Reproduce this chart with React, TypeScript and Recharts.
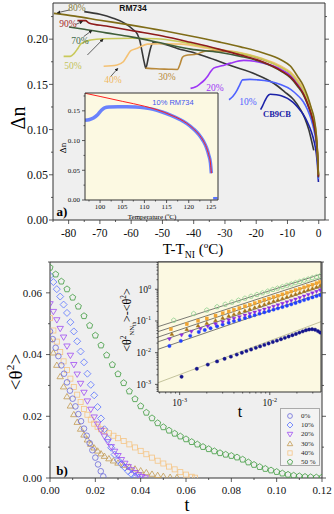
import React from "react";
import { ComposedChart, Line, Scatter, XAxis, YAxis, CartesianGrid, ReferenceLine } from "recharts";

// ---- panel a: birefringence vs T - T_NI, rows are [T - T_NI, Δn]
const rm734 = [[-75, 0.2305], [-70, 0.2275], [-66, 0.2235], [-62, 0.2175], [-59.5, 0.211], [-58, 0.2055], [-57.2, 0.198], [-56.5, 0.186], [-55.8, 0.174], [-55.3, 0.168], [-54.6, 0.178], [-53.8, 0.19], [-53, 0.196], [-50, 0.195], [-45, 0.1895], [-41, 0.186], [-36, 0.1805], [-28, 0.1705], [-20, 0.161], [-14.3, 0.151], [-11, 0.142], [-8, 0.133], [-6, 0.123], [-4.5, 0.113], [-3.2, 0.1], [-2.4, 0.089], [-1.6, 0.077]];
const mix90 = [[-77.2, 0.2205], [-74.6, 0.2205], [-73.5, 0.218], [-68, 0.2145], [-60, 0.2095], [-50, 0.2035], [-41, 0.1965], [-32, 0.189], [-25, 0.1825], [-18, 0.175], [-12, 0.165], [-9, 0.158], [-6.8, 0.149], [-5, 0.14], [-3.6, 0.129], [-2.4, 0.117], [-1.5, 0.105], [-0.8, 0.09], [-0.4, 0.072], [-0.1, 0.048]];
const mix80 = [[-84.7, 0.2285], [-78, 0.2255], [-70, 0.221], [-60, 0.2155], [-50, 0.2095], [-41, 0.2035], [-32, 0.197], [-25, 0.1915], [-18, 0.185], [-12, 0.177], [-9, 0.17], [-6.8, 0.159], [-5, 0.149], [-3.6, 0.137], [-2.4, 0.124], [-1.5, 0.113], [-0.8, 0.095], [-0.4, 0.075], [-0.1, 0.05]];
const mix70 = [[-79.9, 0.2135], [-75, 0.211], [-68, 0.207], [-60, 0.2025], [-50, 0.1955], [-41, 0.189], [-32, 0.1855], [-25, 0.181], [-18, 0.1745], [-12, 0.1645], [-9, 0.157], [-6.8, 0.148], [-5, 0.139], [-3.6, 0.128], [-2.4, 0.116], [-1.5, 0.104], [-0.8, 0.089], [-0.4, 0.071], [-0.1, 0.047]];
const mix50 = [[-81.6, 0.181], [-79.5, 0.181], [-78.3, 0.184], [-77, 0.19], [-76, 0.195], [-73, 0.199], [-68.8, 0.2005], [-60, 0.201], [-52, 0.2005], [-44, 0.197], [-35, 0.1905], [-25, 0.1845], [-18, 0.178], [-12, 0.1685], [-9, 0.162], [-6.8, 0.153], [-5, 0.144], [-3.6, 0.133], [-2.4, 0.121], [-1.5, 0.108], [-0.8, 0.093], [-0.4, 0.074], [-0.1, 0.049]];
const mix40 = [[-68.8, 0.17], [-64.5, 0.1715], [-62.5, 0.175], [-61.2, 0.182], [-60.2, 0.187], [-58, 0.19], [-54.8, 0.1945], [-50, 0.195], [-44, 0.1945], [-35, 0.1895], [-25, 0.185], [-18, 0.1785], [-12, 0.17], [-9, 0.1635], [-6.8, 0.155], [-5, 0.146], [-3.6, 0.135], [-2.4, 0.123], [-1.5, 0.11], [-0.8, 0.095], [-0.4, 0.076], [-0.1, 0.05]];
const mix30 = [[-55.4, 0.168], [-52, 0.1672], [-48, 0.1668], [-45.2, 0.1665], [-44.4, 0.172], [-43.6, 0.18], [-42.6, 0.182], [-39, 0.1835], [-36, 0.187], [-32, 0.187], [-25, 0.184], [-18, 0.1775], [-12, 0.169], [-9, 0.1625], [-6.8, 0.154], [-5, 0.145], [-3.6, 0.134], [-2.4, 0.122], [-1.5, 0.109], [-0.8, 0.094], [-0.4, 0.075], [-0.1, 0.049]];
const mix20 = [[-41, 0.1456], [-39.5, 0.147], [-38, 0.1505], [-36.5, 0.155], [-35.6, 0.1586], [-34.5, 0.1645], [-33.6, 0.168], [-31, 0.1705], [-28.2, 0.1735], [-24, 0.1765], [-18, 0.1738], [-12, 0.1665], [-9, 0.16], [-6.8, 0.151], [-5, 0.142], [-3.6, 0.131], [-2.4, 0.119], [-1.5, 0.106], [-0.8, 0.091], [-0.4, 0.073], [-0.1, 0.048]];
const mix10 = [[-28.7, 0.133], [-27.5, 0.1365], [-26.2, 0.143], [-25.2, 0.15], [-24.4, 0.155], [-22, 0.1555], [-19.6, 0.155], [-16, 0.1535], [-12, 0.1495], [-9, 0.1445], [-6.8, 0.138], [-5, 0.131], [-3.6, 0.122], [-2.4, 0.111], [-1.5, 0.099], [-0.8, 0.085], [-0.4, 0.068], [-0.1, 0.045]];
const cb9cb = [[-18.6, 0.122], [-18, 0.126], [-17.2, 0.132], [-16.4, 0.137], [-15.5, 0.139], [-13.5, 0.1385], [-12, 0.1375], [-10, 0.1345], [-8.2, 0.13], [-6.8, 0.125], [-5, 0.117], [-3.6, 0.108], [-2.4, 0.098], [-1.5, 0.087], [-0.8, 0.074], [-0.4, 0.06], [-0.1, 0.042]];

// inset a: 10% RM734, Δn vs temperature
const ins10 = [[96.6, 0.134], [97.5, 0.135], [98.5, 0.138], [99.5, 0.144], [100.3, 0.151], [101, 0.155], [102, 0.1565], [104, 0.157], [106, 0.157], [108, 0.1565], [110, 0.155], [112, 0.1525], [114, 0.148], [116, 0.1425], [118, 0.1355], [119.5, 0.129], [121, 0.12], [122.3, 0.11], [123.3, 0.099], [124, 0.088], [124.5, 0.076], [124.9, 0.062], [125.1, 0.045]];
const ins10Tail = [[125.5, 0.003], [126.5, 0.003]];
const ins10Fit = [[96.6, 0.1796], [100, 0.1742], [105, 0.166], [110, 0.1578], [113, 0.1515], [114.5, 0.1475], [116, 0.1428], [118, 0.136], [119.5, 0.1293], [121, 0.1203], [122.3, 0.1103], [123.3, 0.0993], [124, 0.0883], [124.5, 0.0763], [124.9, 0.0623], [125.1, 0.045]];

// ---- panel b: <θ²> vs t
const th0 = [[0, 0.0475], [0.0012, 0.045], [0.0025, 0.0422], [0.0037, 0.0395], [0.005, 0.0365], [0.0062, 0.0338], [0.0075, 0.031], [0.0088, 0.0283], [0.01, 0.0257], [0.0112, 0.0232], [0.0125, 0.0207], [0.0137, 0.0184], [0.015, 0.016], [0.0162, 0.0137], [0.0175, 0.0113], [0.0187, 0.009], [0.02, 0.0066], [0.0212, 0.0044], [0.0224, 0.0022], [0.0235, 0.0005]];
const th10 = [[0, 0.0655], [0.0015, 0.0635], [0.003, 0.0612], [0.0045, 0.0588], [0.006, 0.0562], [0.0075, 0.0535], [0.009, 0.0505], [0.0105, 0.0475], [0.012, 0.0443], [0.0135, 0.041], [0.015, 0.0375], [0.0165, 0.0338], [0.018, 0.0302], [0.0195, 0.0268], [0.021, 0.023], [0.0225, 0.0193], [0.024, 0.0158], [0.0255, 0.0126], [0.027, 0.0098], [0.0285, 0.0076], [0.03, 0.0058], [0.0315, 0.0045], [0.033, 0.0034], [0.0345, 0.0022], [0.036, 0.0012], [0.0375, 0.0005], [0.039, 0.0001]];
const th20 = [[0, 0.0565], [0.0015, 0.054], [0.003, 0.0513], [0.0045, 0.0485], [0.006, 0.0457], [0.0075, 0.0428], [0.009, 0.0398], [0.0105, 0.0368], [0.012, 0.0337], [0.0135, 0.0307], [0.015, 0.0278], [0.0165, 0.025], [0.018, 0.0223], [0.0195, 0.0198], [0.021, 0.0175], [0.0225, 0.0155], [0.024, 0.0136], [0.0255, 0.0118], [0.027, 0.0102], [0.0285, 0.0087], [0.03, 0.0073], [0.0315, 0.006], [0.033, 0.0048], [0.0345, 0.0037], [0.036, 0.0027], [0.0375, 0.0018], [0.039, 0.0011], [0.0405, 0.0005], [0.042, 0.0001]];
const th30 = [[0, 0.0448], [0.0015, 0.0405], [0.003, 0.0365], [0.0045, 0.0328], [0.006, 0.0295], [0.0075, 0.0263], [0.009, 0.0233], [0.0105, 0.0205], [0.012, 0.018], [0.0135, 0.0158], [0.015, 0.0139], [0.0165, 0.0123], [0.018, 0.0109], [0.0195, 0.0097], [0.021, 0.0087], [0.0225, 0.0078], [0.024, 0.007], [0.026, 0.0062], [0.028, 0.0055], [0.03, 0.0048], [0.0325, 0.0041], [0.035, 0.0035], [0.0375, 0.0029], [0.04, 0.0023], [0.0425, 0.0017], [0.045, 0.0012], [0.0475, 0.0008], [0.05, 0.0005], [0.053, 0.0002], [0.056, 0.0001]];
const th40 = [[0, 0.0518], [0.0015, 0.0478], [0.003, 0.0442], [0.0045, 0.0408], [0.006, 0.0378], [0.0075, 0.035], [0.009, 0.0322], [0.0105, 0.0295], [0.012, 0.027], [0.0135, 0.0246], [0.015, 0.0224], [0.0165, 0.0205], [0.018, 0.0189], [0.0195, 0.0176], [0.021, 0.0166], [0.0225, 0.0158], [0.024, 0.0152], [0.026, 0.0145], [0.028, 0.0137], [0.03, 0.0129], [0.0325, 0.012], [0.035, 0.0109], [0.0375, 0.0099], [0.04, 0.0088], [0.0425, 0.0077], [0.045, 0.0066], [0.0475, 0.0056], [0.05, 0.0047], [0.0525, 0.0037], [0.055, 0.0028], [0.0575, 0.0019], [0.06, 0.0011], [0.0625, 0.0004], [0.064, 0.0001]];
const th50 = [[0, 0.0682], [0.0025, 0.066], [0.005, 0.0637], [0.0075, 0.0612], [0.01, 0.0585], [0.0125, 0.0556], [0.015, 0.0525], [0.0175, 0.0494], [0.02, 0.0462], [0.0225, 0.043], [0.025, 0.0398], [0.0275, 0.0367], [0.03, 0.0337], [0.0325, 0.0308], [0.035, 0.0281], [0.0375, 0.0256], [0.04, 0.0233], [0.0425, 0.0212], [0.045, 0.0194], [0.0475, 0.0178], [0.05, 0.0165], [0.0525, 0.0154], [0.055, 0.0144], [0.0575, 0.0135], [0.06, 0.0126], [0.0625, 0.0117], [0.065, 0.0109], [0.0675, 0.0101], [0.07, 0.0094], [0.0725, 0.0087], [0.075, 0.0081], [0.0775, 0.0076], [0.08, 0.0072], [0.0825, 0.0067], [0.085, 0.006], [0.0875, 0.0051], [0.09, 0.0043], [0.0925, 0.0036], [0.095, 0.003], [0.0975, 0.0025], [0.1, 0.002], [0.1025, 0.0015], [0.105, 0.0011], [0.1075, 0.0008], [0.11, 0.0006], [0.1125, 0.0004], [0.115, 0.0003], [0.1175, 0.0002], [0.12, 0.0002]];
const thLabels = ["0%", "10%", "20%", "30%", "40%", "50 %"];

// inset b: <θ²_NNth> - <θ²> vs t, log-log, with power-law fits
const lgNavy = [[1.05e-3, 1.75e-3], [1.55e-3, 3.1e-3], [2.05e-3, 4.2e-3], [2.6e-3, 5.3e-3], [3.15e-3, 6.4e-3], [3.7e-3, 7.5e-3], [4.3e-3, 8.7e-3], [4.9e-3, 9.9e-3], [5.5e-3, 1.12e-2], [6.2e-3, 1.26e-2], [7e-3, 1.42e-2], [7.8e-3, 1.58e-2], [8.7e-3, 1.76e-2], [9.7e-3, 1.95e-2], [1.08e-2, 2.17e-2], [1.2e-2, 2.4e-2], [1.33e-2, 2.66e-2], [1.47e-2, 2.94e-2], [1.62e-2, 3.24e-2], [1.78e-2, 3.56e-2], [1.95e-2, 3.9e-2], [2.13e-2, 4.3e-2], [2.32e-2, 4.7e-2], [2.52e-2, 5.1e-2], [2.73e-2, 5.4e-2], [2.95e-2, 5.5e-2], [3.18e-2, 5.3e-2], [3.42e-2, 4.8e-2], [3.62e-2, 4.3e-2]];
const lgBlue = [[7.7e-4, 0.0163], [1.03e-3, 0.0235], [1.31e-3, 0.034], [1.63e-3, 0.045], [1.9e-3, 0.052], [2.2e-3, 0.059], [2.6e-3, 0.068], [3e-3, 0.077], [3.5e-3, 0.088], [4e-3, 0.099], [4.6e-3, 0.11], [5.3e-3, 0.124], [6e-3, 0.138], [6.8e-3, 0.153], [7.7e-3, 0.17], [8.7e-3, 0.188], [9.8e-3, 0.207], [1.1e-2, 0.228], [1.23e-2, 0.25], [1.38e-2, 0.275], [1.55e-2, 0.303], [1.73e-2, 0.335], [1.93e-2, 0.37], [2.15e-2, 0.41], [2.4e-2, 0.455], [2.67e-2, 0.5], [2.97e-2, 0.555], [3.3e-2, 0.61], [3.62e-2, 0.66]];
const lgPurple = [[7.7e-4, 0.027], [1.05e-3, 0.036], [1.35e-3, 0.047], [1.7e-3, 0.057], [2.05e-3, 0.068], [2.5e-3, 0.08], [3e-3, 0.093], [3.5e-3, 0.107], [4e-3, 0.12], [4.6e-3, 0.135], [5.3e-3, 0.152], [6e-3, 0.17], [6.8e-3, 0.19], [7.7e-3, 0.21], [8.7e-3, 0.235], [9.8e-3, 0.26], [1.1e-2, 0.29], [1.23e-2, 0.32], [1.38e-2, 0.355], [1.55e-2, 0.395], [1.73e-2, 0.44], [1.93e-2, 0.49], [2.15e-2, 0.545], [2.4e-2, 0.61], [2.67e-2, 0.68], [2.97e-2, 0.76], [3.3e-2, 0.85], [3.62e-2, 0.95]];
const lgBrown = [[8.2e-4, 0.038], [1.2e-3, 0.054], [1.6e-3, 0.07], [2e-3, 0.085], [2.5e-3, 0.104], [3e-3, 0.123], [3.5e-3, 0.142], [4e-3, 0.161], [4.6e-3, 0.183], [5.3e-3, 0.208], [6e-3, 0.234], [6.8e-3, 0.263], [7.7e-3, 0.295], [8.7e-3, 0.33], [9.8e-3, 0.372], [1.1e-2, 0.415], [1.23e-2, 0.46], [1.38e-2, 0.51], [1.55e-2, 0.57], [1.73e-2, 0.63], [1.93e-2, 0.7], [2.15e-2, 0.78], [2.4e-2, 0.86], [2.67e-2, 0.96], [2.97e-2, 1.06], [3.3e-2, 1.17], [3.62e-2, 1.3]];
const lgOrange = [[8e-4, 0.055], [1.2e-3, 0.079], [1.6e-3, 0.102], [2e-3, 0.12], [2.5e-3, 0.148], [3e-3, 0.175], [3.5e-3, 0.2], [4e-3, 0.226], [4.6e-3, 0.256], [5.3e-3, 0.29], [6e-3, 0.325], [6.8e-3, 0.365], [7.7e-3, 0.41], [8.7e-3, 0.46], [9.8e-3, 0.51], [1.1e-2, 0.565], [1.23e-2, 0.625], [1.38e-2, 0.69], [1.55e-2, 0.77], [1.73e-2, 0.85], [1.93e-2, 0.94], [2.15e-2, 1.04], [2.4e-2, 1.15], [2.67e-2, 1.27], [2.97e-2, 1.4], [3.3e-2, 1.55], [3.62e-2, 1.7]];
const lgGreen = [[8.6e-4, 0.105], [1.43e-3, 0.17], [2e-3, 0.22], [2.6e-3, 0.28], [3.2e-3, 0.335], [3.8e-3, 0.39], [4.5e-3, 0.45], [5.3e-3, 0.52], [6.2e-3, 0.6], [7.2e-3, 0.68], [8.3e-3, 0.77], [9.5e-3, 0.87], [1.08e-2, 0.98], [1.22e-2, 1.08], [1.38e-2, 1.2], [1.55e-2, 1.33], [1.73e-2, 1.45], [1.93e-2, 1.6], [2.15e-2, 1.75], [2.4e-2, 1.92], [2.67e-2, 2.1], [2.97e-2, 2.3], [3.3e-2, 2.48], [3.62e-2, 2.65]];
const fitA = [[5.75e-4, 0.066], [3.7e-2, 3.0]];
const fitB = [[5.75e-4, 0.046], [3.7e-2, 2.2]];
const fitC = [[5.75e-4, 0.031], [3.7e-2, 1.7]];
const fitD = [[5.75e-4, 0.022], [3.7e-2, 1.2]];
const fitE = [[5.75e-4, 0.0128], [3.7e-2, 0.75]];
const fitNavy = [[5.75e-4, 1.13e-3], [3.7e-2, 0.095]];

// ---- ticks
const aXTicks = [-85, -80, -75, -70, -65, -60, -55, -50, -45, -40, -35, -30, -25, -20, -15, -10, -5, 0];
const aXMajor = [-80, -70, -60, -50, -40, -30, -20, -10, 0];
const aYTicks = [0, 0.025, 0.05, 0.075, 0.1, 0.125, 0.15, 0.175, 0.2, 0.225];
const aYMajor = [0, 0.05, 0.1, 0.15, 0.2];
const iXTicks = [97.5, 100, 102.5, 105, 107.5, 110, 112.5, 115, 117.5, 120, 122.5, 125];
const iXMajor = [100, 105, 110, 115, 120, 125];
const iYTicks = [0, 0.025, 0.05, 0.075, 0.1, 0.125, 0.15, 0.175];
const iYMajor = [0, 0.05, 0.1, 0.15];
const bXTicks = [0, 0.01, 0.02, 0.03, 0.04, 0.05, 0.06, 0.07, 0.08, 0.09, 0.1, 0.11, 0.12];
const bXMajor = [0, 0.02, 0.04, 0.06, 0.08, 0.1, 0.12];
const bYTicks = [0, 0.01, 0.02, 0.03, 0.04, 0.05, 0.06, 0.07];
const bYMajor = [0, 0.02, 0.04, 0.06];
const lXTicks = [6e-4, 7e-4, 8e-4, 9e-4, 1e-3, 2e-3, 3e-3, 4e-3, 5e-3, 6e-3, 7e-3, 8e-3, 9e-3, 1e-2, 2e-2, 3e-2];
const lXMajor = [1e-3, 1e-2];
const lYTicks = [6e-4, 7e-4, 8e-4, 9e-4, 1e-3, 2e-3, 3e-3, 4e-3, 5e-3, 6e-3, 7e-3, 8e-3, 9e-3, 1e-2, 2e-2, 3e-2, 4e-2, 5e-2, 6e-2, 7e-2, 8e-2, 9e-2, 0.1, 0.2, 0.3, 0.4, 0.5, 0.6, 0.7, 0.8, 0.9, 1, 2, 3, 4, 5, 6, 7];
const lYMajor = [1e-3, 1e-2, 1e-1, 1];

const SERIF = '"Liberation Serif", "DejaVu Serif", serif';
const SANS = '"Liberation Sans", Arial, sans-serif';
const AX = "#333";

const pts = (rows: number[][]) => rows.map(([x, y]) => ({ x, y }));

type Side = "left" | "right" | "top" | "bottom";

// draws its own tick line (long for majors, short for minors) plus the label
function axisTick(side: Side, majors: number[], off: number, size: number, fmt?: (v: number) => React.ReactNode, long = 4, short = 2) {
  return (p: any) => {
    const v = Number(p.payload.value);
    const major = majors.some((m) => Math.abs(m - v) <= Math.abs(m) * 1e-6 + 1e-12);
    const len = major ? long : short;
    const { x, y } = p;
    const txt = { fontFamily: SERIF, fontSize: size, fill: "#111" };
    let ln = null;
    let lb = null;
    if (side === "bottom") {
      const a = y - off;
      ln = <line x1={x} x2={x} y1={a} y2={a + len} stroke={AX} strokeWidth={0.8} />;
      if (major && fmt) lb = <text x={x} y={y} dy="0.71em" textAnchor="middle" style={txt}>{fmt(v)}</text>;
    } else if (side === "left") {
      const a = x + off;
      ln = <line x1={a - len} x2={a} y1={y} y2={y} stroke={AX} strokeWidth={0.8} />;
      if (major && fmt) lb = <text x={x} y={y} dy="0.35em" textAnchor="end" style={txt}>{fmt(v)}</text>;
    } else if (side === "top") {
      const a = y + off;
      ln = <line x1={x} x2={x} y1={a - len} y2={a} stroke={AX} strokeWidth={0.8} />;
    } else {
      const a = x - off;
      ln = <line x1={a} x2={a + len} y1={y} y2={y} stroke={AX} strokeWidth={0.8} />;
    }
    return <g>{ln}{lb}</g>;
  };
}

const pow10 = (v: number) => {
  const e = Math.round(Math.log10(v));
  return (
    <>
      <tspan>10</tspan>
      <tspan dy={-4} fontSize="0.65em">{e === 0 ? "0" : "-" + -e}</tspan>
    </>
  );
};

type Kind = "circle" | "diamond" | "down" | "up" | "square" | "pentagon";

function glyph(kind: Kind, cx: number, cy: number, r: number, color: string, filled: boolean) {
  const paint = { fill: filled ? color : "none", stroke: color, strokeWidth: filled ? 0.4 : 0.8 };
  if (kind === "circle") return <circle cx={cx} cy={cy} r={r} {...paint} />;
  if (kind === "square") return <rect x={cx - r * 0.9} y={cy - r * 0.9} width={r * 1.8} height={r * 1.8} {...paint} />;
  const poly = (list: number[][]) => (
    <polygon points={list.map(([a, b]) => `${cx + a * r},${cy + b * r}`).join(" ")} {...paint} />
  );
  if (kind === "diamond") return poly([[0, -1.25], [1.25, 0], [0, 1.25], [-1.25, 0]]);
  if (kind === "down") return poly([[-1.15, -0.7], [1.15, -0.7], [0, 1.2]]);
  if (kind === "up") return poly([[-1.15, 0.7], [1.15, 0.7], [0, -1.2]]);
  return poly([[0, -1.15], [1.09, -0.36], [0.68, 0.93], [-0.68, 0.93], [-1.09, -0.36]]);
}

const shape = (kind: Kind, color: string, filled: boolean, r: number) => (p: any) =>
  glyph(kind, p.cx, p.cy, r, color, filled);

function Txt({ x, y, children, size = 10, color = "#000", weight = 400, family = SERIF, rotate = 0 }: any) {
  return (
    <div
      style={{
        position: "absolute", left: x, top: y, transform: `translate(-50%, -50%) rotate(${rotate}deg)`,
        fontSize: size, color, fontWeight: weight, fontFamily: family, whiteSpace: "nowrap", lineHeight: 1,
      }}
    >
      {children}
    </div>
  );
}

const seriesA = [
  { data: rm734, color: "#383838" },
  { data: cb9cb, color: "#1c22a8" },
  { data: mix10, color: "#4f62ff" },
  { data: mix20, color: "#9d35f5" },
  { data: mix30, color: "#b9893a" },
  { data: mix40, color: "#f4c173" },
  { data: mix50, color: "#c9c95a" },
  { data: mix70, color: "#3f5e3a" },
  { data: mix90, color: "#8e1b1b" },
  { data: mix80, color: "#7f6c17" },
];

const arrowsA = [
  [[-79.7, 0.2323], [-83.6, 0.2292]],
  [[-77.8, 0.2162], [-75.6, 0.2195]],
  [[-75.2, 0.2028], [-72.6, 0.2095]],
  [[-74, 0.1825], [-69, 0.2]],
  [[-66.6, 0.1585], [-64.3, 0.1675]],
];

const seriesB = [
  { data: th40, kind: "square" as Kind, color: "#f5c585" },
  { data: th30, kind: "up" as Kind, color: "#c39a52" },
  { data: th20, kind: "down" as Kind, color: "#a04cf2" },
  { data: th10, kind: "diamond" as Kind, color: "#5a73ff" },
  { data: th0, kind: "circle" as Kind, color: "#6b6bdb" },
  { data: th50, kind: "pentagon" as Kind, color: "#3d9a3d" },
];
const legendB = [
  { kind: "circle" as Kind, color: "#6b6bdb" },
  { kind: "diamond" as Kind, color: "#5a73ff" },
  { kind: "down" as Kind, color: "#a04cf2" },
  { kind: "up" as Kind, color: "#c39a52" },
  { kind: "square" as Kind, color: "#f5c585" },
  { kind: "pentagon" as Kind, color: "#3d9a3d" },
];

const seriesL = [
  { data: lgNavy, kind: "circle" as Kind, color: "#14148c", filled: true },
  { data: lgBlue, kind: "circle" as Kind, color: "#2040ff", filled: true },
  { data: lgPurple, kind: "down" as Kind, color: "#8a2be2", filled: true },
  { data: lgBrown, kind: "up" as Kind, color: "#a87318", filled: true },
  { data: lgOrange, kind: "square" as Kind, color: "#f2a531", filled: true },
  { data: lgGreen, kind: "pentagon" as Kind, color: "#8fcf8f", filled: false },
];

function PanelA() {
  return (
    <ComposedChart width={334} height={240} margin={{ top: 2, right: 8, bottom: 0, left: 0 }}>
      <defs>
        <marker id="arr" viewBox="0 0 6 6" refX="5" refY="3" markerWidth="5" markerHeight="5" orient="auto">
          <path d="M0,0 L6,3 L0,6 z" fill="#222" />
        </marker>
      </defs>
      <CartesianGrid fill="#efefef" stroke="none" horizontal={false} vertical={false} />
      <XAxis type="number" dataKey="x" domain={[-85, 2]} allowDataOverflow ticks={aXTicks} interval={0} height={20}
        tickSize={4} tickMargin={5} tickLine={false} axisLine={{ stroke: AX }} tick={axisTick("bottom", aXMajor, 9, 11.5, (v) => String(v))} />
      <XAxis xAxisId="top" orientation="top" type="number" domain={[-85, 2]} allowDataOverflow ticks={aXTicks} interval={0} height={1}
        tickSize={4} tickMargin={0} tickLine={false} axisLine={{ stroke: AX }} tick={axisTick("top", aXMajor, 4, 0)} />
      <YAxis type="number" dataKey="y" domain={[0, 0.24]} allowDataOverflow ticks={aYTicks} interval={0} width={53}
        tickSize={4} tickMargin={1} tickLine={false} axisLine={{ stroke: AX }} tick={axisTick("left", aYMajor, 5, 12, (v) => v.toFixed(2))} />
      <YAxis yAxisId="right" orientation="right" type="number" domain={[0, 0.24]} allowDataOverflow ticks={aYTicks} interval={0} width={1}
        tickSize={4} tickMargin={0} tickLine={false} axisLine={{ stroke: AX }} tick={axisTick("right", aYMajor, 4, 0)} />
      {seriesA.map((s, i) => (
        <Line key={i} data={pts(s.data)} dataKey="y" type="monotone" stroke={s.color} strokeWidth={1.6} dot={false} isAnimationActive={false} />
      ))}
      {arrowsA.map(([a, b], i) => (
        <ReferenceLine key={i} segment={[{ x: a[0], y: a[1] }, { x: b[0], y: b[1] }]} stroke="#222" strokeWidth={0.7} markerEnd="url(#arr)" />
      ))}
    </ComposedChart>
  );
}

function InsetA() {
  return (
    <ComposedChart width={175} height={135} margin={{ top: 7, right: 6, bottom: 0, left: 0 }}>
      <CartesianGrid fill="#fcf9e2" stroke="none" horizontal={false} vertical={false} />
      <XAxis type="number" dataKey="x" domain={[96.6, 126.6]} allowDataOverflow ticks={iXTicks} interval={0} height={20}
        tickSize={3} tickMargin={1} tickLine={false} axisLine={{ stroke: AX }} tick={axisTick("bottom", iXMajor, 4, 7, (v) => String(v), 3, 1.5)} />
      <XAxis xAxisId="top" orientation="top" type="number" domain={[96.6, 126.6]} allowDataOverflow ticks={iXTicks} interval={0} height={1}
        tickSize={3} tickMargin={0} tickLine={false} axisLine={{ stroke: AX }} tick={axisTick("top", iXMajor, 3, 0, undefined, 0, 0)} />
      <YAxis type="number" dataKey="y" domain={[0, 0.18]} allowDataOverflow ticks={iYTicks} interval={0} width={35}
        tickSize={3} tickMargin={2} tickLine={false} axisLine={{ stroke: AX }} tick={axisTick("left", iYMajor, 5, 7, (v) => v.toFixed(2), 3, 1.5)} />
      <YAxis yAxisId="right" orientation="right" type="number" domain={[0, 0.18]} allowDataOverflow ticks={iYTicks} interval={0} width={1}
        tickSize={3} tickMargin={0} tickLine={false} axisLine={{ stroke: AX }} tick={axisTick("right", iYMajor, 3, 0, undefined, 0, 0)} />
      <Line data={pts(ins10)} dataKey="y" type="monotone" stroke="#5a74ff" strokeWidth={3.5} strokeOpacity={0.9} dot={false} isAnimationActive={false} />
      <Line data={pts(ins10Tail)} dataKey="y" type="linear" stroke="#5a74ff" strokeWidth={2.5} dot={false} isAnimationActive={false} />
      <Line data={pts(ins10Fit)} dataKey="y" type="monotone" stroke="#ff2020" strokeWidth={1} dot={false} isAnimationActive={false} />
    </ComposedChart>
  );
}

function PanelB() {
  return (
    <ComposedChart width={334} height={274} margin={{ top: 21, right: 11, bottom: 11, left: 0 }}>
      <CartesianGrid fill="#efefef" stroke="none" horizontal={false} vertical={false} />
      <XAxis type="number" dataKey="x" domain={[0, 0.12]} allowDataOverflow ticks={bXTicks} interval={0} height={25}
        tickSize={4} tickMargin={4} tickLine={false} axisLine={{ stroke: AX }} tick={axisTick("bottom", bXMajor, 8, 11, (v) => v.toFixed(2))} />
      <XAxis xAxisId="top" orientation="top" type="number" domain={[0, 0.12]} allowDataOverflow ticks={bXTicks} interval={0} height={1}
        tickSize={4} tickMargin={0} tickLine={false} axisLine={{ stroke: AX }} tick={axisTick("top", bXMajor, 4, 0)} />
      <YAxis type="number" dataKey="y" domain={[0, 0.07]} allowDataOverflow ticks={bYTicks} interval={0} width={50}
        tickSize={4} tickMargin={4} tickLine={false} axisLine={{ stroke: AX }} tick={axisTick("left", bYMajor, 8, 11, (v) => v.toFixed(2))} />
      <YAxis yAxisId="right" orientation="right" type="number" domain={[0, 0.07]} allowDataOverflow ticks={bYTicks} interval={0} width={1}
        tickSize={4} tickMargin={0} tickLine={false} axisLine={{ stroke: AX }} tick={axisTick("right", bYMajor, 4, 0)} />
      {seriesB.map((s, i) => (
        <Scatter key={i} data={pts(s.data)} shape={shape(s.kind, s.color, false, 2.8)} isAnimationActive={false} />
      ))}
    </ComposedChart>
  );
}

function InsetB() {
  return (
    <ComposedChart width={210} height={155} margin={{ top: 6, right: 8, bottom: 0, left: 0 }}>
      <CartesianGrid fill="#fcf9e2" stroke="none" horizontal={false} vertical={false} />
      <XAxis type="number" dataKey="x" scale="log" domain={[5.75e-4, 0.037]} allowDataOverflow ticks={lXTicks} interval={0} height={18}
        tickSize={3} tickMargin={4} tickLine={false} axisLine={{ stroke: AX }} tick={axisTick("bottom", lXMajor, 7, 9.5, pow10, 3, 1.5)} />
      <XAxis xAxisId="top" orientation="top" type="number" scale="log" domain={[5.75e-4, 0.037]} allowDataOverflow ticks={lXTicks} interval={0} height={1}
        tickSize={3} tickMargin={0} tickLine={false} axisLine={{ stroke: AX }} tick={axisTick("top", lXMajor, 3, 0, undefined, 0, 0)} />
      <YAxis type="number" dataKey="y" scale="log" domain={[5.75e-4, 7.25]} allowDataOverflow ticks={lYTicks} interval={0} width={38}
        tickSize={3} tickMargin={4} tickLine={false} axisLine={{ stroke: AX }} tick={axisTick("left", lYMajor, 7, 9.5, pow10, 3, 1.5)} />
      <YAxis yAxisId="right" orientation="right" type="number" scale="log" domain={[5.75e-4, 7.25]} allowDataOverflow ticks={lYTicks} interval={0} width={1}
        tickSize={3} tickMargin={0} tickLine={false} axisLine={{ stroke: AX }} tick={axisTick("right", lYMajor, 3, 0, undefined, 0, 0)} />
      {seriesL.map((s, i) => (
        <Scatter key={i} data={pts(s.data)} shape={shape(s.kind, s.color, s.filled, s.filled ? 1.7 : 2.1)} isAnimationActive={false} />
      ))}
      {[fitA, fitB, fitC, fitD, fitE].map((f, i) => (
        <Line key={i} data={pts(f)} dataKey="y" type="linear" stroke="#444" strokeWidth={0.7} dot={false} isAnimationActive={false} />
      ))}
      <Line data={pts(fitNavy)} dataKey="y" type="linear" stroke="#b5b58a" strokeWidth={0.8} dot={false} isAnimationActive={false} />
    </ComposedChart>
  );
}

const at = (left: number, top: number): React.CSSProperties => ({ position: "absolute", left, top });

export default function App() {
  return (
    <div style={{ position: "absolute", left: 0, top: 0, width: 334, height: 514, background: "#fff", overflow: "hidden" }}>
      <div style={at(0, 0)}><PanelA /></div>
      <div style={at(50, 85)}><InsetA /></div>
      <div style={at(0, 240)}><PanelB /></div>
      <div style={at(120, 255)}><InsetB /></div>

      <Txt x={77} y={9} size={9.5} color="#7f7a40">80%</Txt>
      <Txt x={68} y={25} size={9.5} color="#a52a2a">90%</Txt>
      <Txt x={80} y={42} size={9.5} color="#3f6a4a">70%</Txt>
      <Txt x={73} y={67} size={9.5} color="#c2c25a">50%</Txt>
      <Txt x={113} y={81} size={9.5} color="#f0b860">40%</Txt>
      <Txt x={167} y={78} size={9.5} color="#b88a3a">30%</Txt>
      <Txt x={215} y={89} size={9.5} color="#9d35f5">20%</Txt>
      <Txt x={248} y={103} size={9.5} color="#4f62ff">10%</Txt>
      <Txt x={277} y={114} size={8.5} color="#1c22a8" weight={700}>CB9CB</Txt>
      <Txt x={133} y={8} size={8.5} color="#111" weight={700} family={SANS}>RM734</Txt>
      <Txt x={173} y={103} size={7.5} color="#4455ee" family={SANS}>10% RM734</Txt>

      <Txt x={18} y={118} size={20} rotate={-90}>Δn</Txt>
      <Txt x={193} y={250} size={15}>T-T<sub style={{ fontSize: "0.65em" }}>NI</sub> (<sup style={{ fontSize: "0.6em" }}>o</sup>C)</Txt>
      <Txt x={62} y={211} size={13} weight={700}>a)</Txt>
      <Txt x={63} y={148} size={9} rotate={-90}>Δn</Txt>
      <Txt x={152} y={216.5} size={7}>Temperature (<sup style={{ fontSize: "0.6em" }}>o</sup>C)</Txt>

      <Txt x={15} y={372} size={19} rotate={-90}>&lt;θ<sup style={{ fontSize: "0.6em" }}>2</sup>&gt;</Txt>
      <Txt x={187} y={505} size={18}>t</Txt>
      <Txt x={62} y={470} size={13} weight={700}>b)</Txt>
      <Txt x={240} y={412} size={16}>t</Txt>
      <Txt x={129} y={320} size={12} rotate={-90}>
        &lt;θ<sup style={{ fontSize: "0.6em" }}>2</sup><sub style={{ fontSize: "0.55em" }}>NN<sub style={{ fontSize: "0.8em" }}>th</sub></sub>&gt;-&lt;θ<sup style={{ fontSize: "0.6em" }}>2</sup>&gt;
      </Txt>

      <div style={{ position: "absolute", left: 280, top: 408, width: 40, height: 58, border: "1px solid #aaa", background: "#f3f3f3", boxSizing: "border-box", padding: "2px 0 0 4px" }}>
        {thLabels.map((label, i) => (
          <div key={label} style={{ display: "flex", alignItems: "center", height: 9.3, fontFamily: SERIF, fontSize: 7, color: "#222" }}>
            <svg width={10} height={8} style={{ marginRight: 6 }}>{glyph(legendB[i].kind, 5, 4, 2.4, legendB[i].color, false)}</svg>
            {label}
          </div>
        ))}
      </div>
    </div>
  );
}
